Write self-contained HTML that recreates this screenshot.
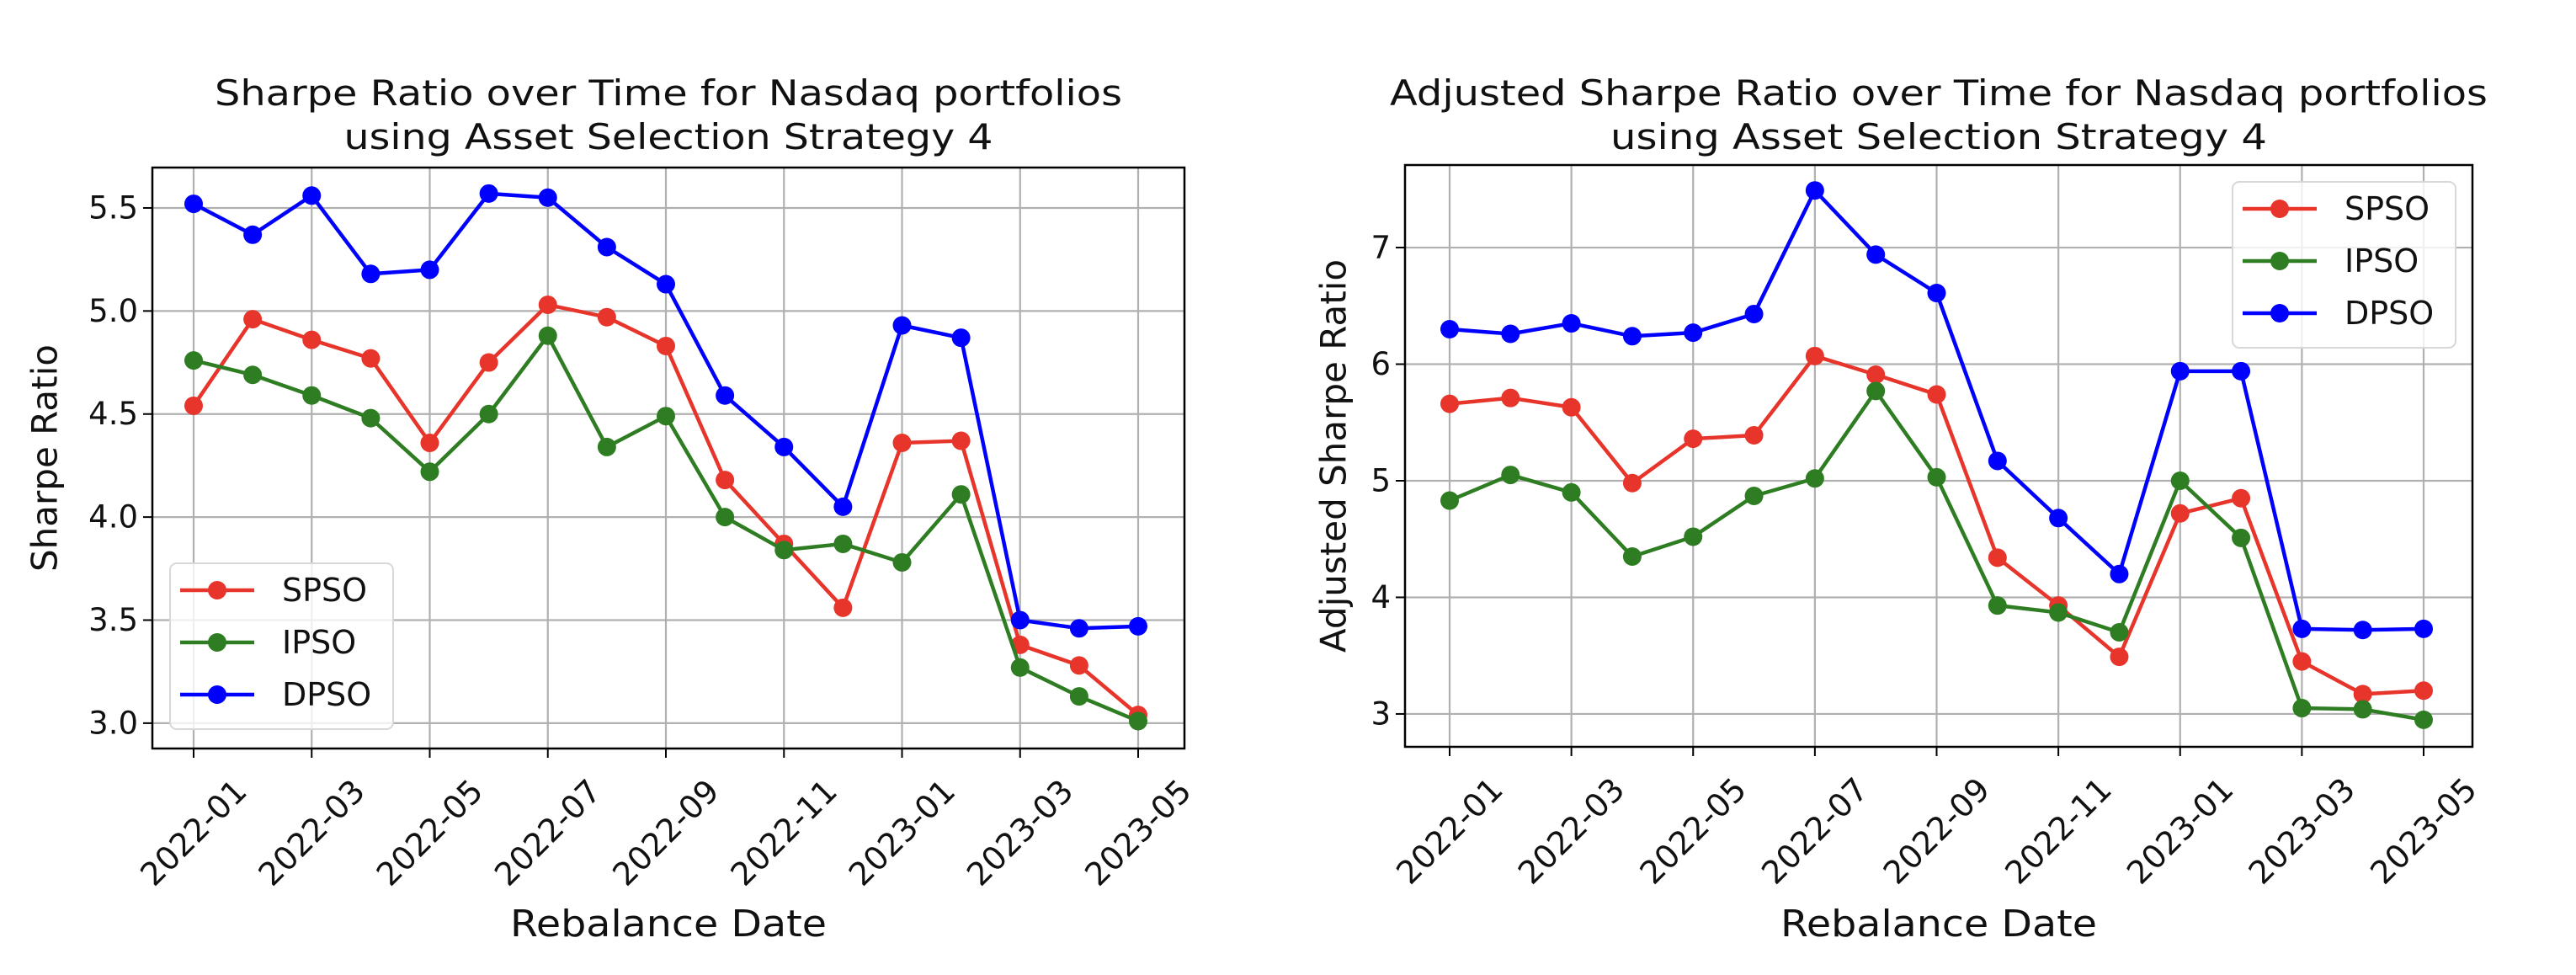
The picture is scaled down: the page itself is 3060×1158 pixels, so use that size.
<!DOCTYPE html>
<html><head><meta charset="utf-8">
<style>
html,body{margin:0;padding:0;background:#fff;}
svg{display:block;font-family:"DejaVu Sans","Liberation Sans",sans-serif;}
</style></head>
<body>
<svg id="fig" width="3060" height="1158" viewBox="0 0 3060 1158" xmlns="http://www.w3.org/2000/svg"></svg>
<script>
const dates = ["2022-01","2022-02","2022-03","2022-04","2022-05","2022-06","2022-07","2022-08","2022-09","2022-10","2022-11","2022-12","2023-01","2023-02","2023-03","2023-04","2023-05"];
const xTickLabels = ["2022-01","2022-03","2022-05","2022-07","2022-09","2022-11","2023-01","2023-03","2023-05"];
const seriesNames = ["SPSO","IPSO","DPSO"];
const sharpeSPSO = [4.54,4.96,4.86,4.77,4.36,4.75,5.03,4.97,4.83,4.18,3.87,3.56,4.36,4.37,3.38,3.28,3.04];
const sharpeIPSO = [4.76,4.69,4.59,4.48,4.22,4.50,4.88,4.34,4.49,4.00,3.84,3.87,3.78,4.11,3.27,3.13,3.01];
const sharpeDPSO = [5.52,5.37,5.56,5.18,5.20,5.57,5.55,5.31,5.13,4.59,4.34,4.05,4.93,4.87,3.50,3.46,3.47];
const adjSPSO = [5.66,5.71,5.63,4.98,5.36,5.39,6.07,5.91,5.74,4.34,3.93,3.49,4.72,4.85,3.45,3.17,3.20];
const adjIPSO = [4.83,5.05,4.90,4.35,4.52,4.87,5.02,5.77,5.03,3.93,3.87,3.70,5.00,4.51,3.05,3.04,2.95];
const adjDPSO = [6.30,6.26,6.35,6.24,6.27,6.43,7.49,6.94,6.61,5.17,4.68,4.20,5.94,5.94,3.73,3.72,3.73];
const leftYTicks = ["3.0","3.5","4.0","4.5","5.0","5.5"];
const rightYTicks = ["3","4","5","6","7"];

const NS = "http://www.w3.org/2000/svg";
const svg = document.getElementById("fig");
const colors = ["#e8352b","#2f7d23","#0000ff"];
function mk(tag, attrs, parent){const e=document.createElementNS(NS,tag);for(const k in attrs)e.setAttribute(k,attrs[k]);(parent||svg).appendChild(e);return e;}
function monthIndex(s){const [y,m]=s.split("-").map(Number);return (y-2022)*12+(m-1);}

function chart(cfg){
  const g = mk("g",{});
  
  
  const {L,R,T,B,x0,x1,yMin,yMax} = cfg;
  const xScale = i => x0 + (x1-x0)*i/16;
  const yScale = v => B - (v-yMin)/(yMax-yMin)*(B-T);
  xTickLabels.forEach(lbl=>{
    const x = xScale(monthIndex(lbl));
    const gl = mk("line",{x1:x,x2:x,y1:T,y2:B,stroke:"#b0b0b0","stroke-width":2.2},g);
    
    
    const tk = mk("line",{x1:x,x2:x,y1:B,y2:B+11,stroke:"#000","stroke-width":2},g);
    
    
    const t = mk("text",{x:x,y:B+100,"font-size":38,"text-anchor":"middle","dominant-baseline":"central",fill:"#111",transform:`rotate(-45 ${x} ${B+100})`},g);
    t.textContent = lbl;
    
    
  });
  cfg.yTicks.forEach(lbl=>{
    const y = yScale(parseFloat(lbl));
    const gl = mk("line",{x1:L,x2:R,y1:y,y2:y,stroke:"#b0b0b0","stroke-width":2.2},g);
    
    
    const tk = mk("line",{x1:L-11,x2:L,y1:y,y2:y,stroke:"#000","stroke-width":2},g);
    
    
    const t = mk("text",{x:L-17,y:y,"font-size":37,"text-anchor":"end","dominant-baseline":"central",fill:"#111"},g);
    t.textContent = lbl;
    
    
  });
  cfg.series.forEach((vals,si)=>{
    const sg = mk("g",{},g);
    
    
    const pts = vals.map((v,i)=>xScale(monthIndex(dates[i]))+","+yScale(v)).join(" ");
    const pl = mk("polyline",{points:pts,fill:"none",stroke:colors[si],"stroke-width":4.5,"stroke-linejoin":"round"},sg);
    
    
    vals.forEach((v,i)=>{
      const c = mk("circle",{cx:xScale(monthIndex(dates[i])),cy:yScale(v),r:11,fill:colors[si]},sg);
      
      
    });
  });
  const fr = mk("rect",{x:L,y:T,width:R-L,height:B-T,fill:"none",stroke:"#000","stroke-width":2.5},g);
  
  
  const lg = mk("g",{},g);
  
  
  const lb = mk("rect",{x:cfg.leg.x,y:cfg.leg.y,width:265,height:197,rx:8,fill:"#fff","fill-opacity":0.8,stroke:"#d8d8d8","stroke-width":2},lg);
  
  
  seriesNames.forEach((n,si)=>{
    const ey = cfg.leg.y + 32 + si*62;
    const lx = cfg.leg.x;
    const eg = mk("g",{},lg);
    
    
    mk("line",{x1:lx+12,x2:lx+100,y1:ey,y2:ey,stroke:colors[si],"stroke-width":4.5},eg);
    mk("circle",{cx:lx+56,cy:ey,r:11,fill:colors[si]},eg);
    const t = mk("text",{x:lx+133,y:ey,"font-size":38,"dominant-baseline":"central",fill:"#111"},eg);
    t.textContent = n;
  });
  const cx = (L+R)/2;
  const t1 = mk("text",{x:cx,y:125,"font-size":42,"text-anchor":"middle",fill:"#111",textLength:cfg.tw1,lengthAdjust:"spacingAndGlyphs"},g);
  t1.textContent = cfg.title1;
  
  
  const t2 = mk("text",{x:cx,y:177,"font-size":42,"text-anchor":"middle",fill:"#111",textLength:cfg.tw2,lengthAdjust:"spacingAndGlyphs"},g);
  t2.textContent = "using Asset Selection Strategy 4";
  
  
  const xl = mk("text",{x:cx,y:1112,"font-size":44,"text-anchor":"middle",fill:"#111",textLength:376,lengthAdjust:"spacingAndGlyphs"},g);
  xl.textContent = "Rebalance Date";
  
  
  const yc = (T+B)/2;
  const yl = mk("text",{x:cfg.ylx,y:yc,"font-size":42,"text-anchor":"middle","dominant-baseline":"central",fill:"#111",transform:`rotate(-90 ${cfg.ylx} ${yc})`},g);
  yl.textContent = cfg.ylabel;
  
  
}

chart({name:"sharpe-ratio-chart",L:181,R:1407,T:199,B:889,x0:230,x1:1352,yMin:2.877,yMax:5.696,
  yTicks:leftYTicks,series:[sharpeSPSO,sharpeIPSO,sharpeDPSO],leg:{x:202,y:669},
  title1:"Sharpe Ratio over Time for Nasdaq portfolios",tw1:1078,tw2:771,ylabel:"Sharpe Ratio",ylx:53});
chart({name:"adjusted-sharpe-ratio-chart",L:1669,R:2937,T:196,B:887,x0:1722,x1:2879,yMin:2.718,yMax:7.708,
  yTicks:rightYTicks,series:[adjSPSO,adjIPSO,adjDPSO],leg:{x:2652,y:216},
  title1:"Adjusted Sharpe Ratio over Time for Nasdaq portfolios",tw1:1304,tw2:780,ylabel:"Adjusted Sharpe Ratio",ylx:1584});
</script>
</body></html>
